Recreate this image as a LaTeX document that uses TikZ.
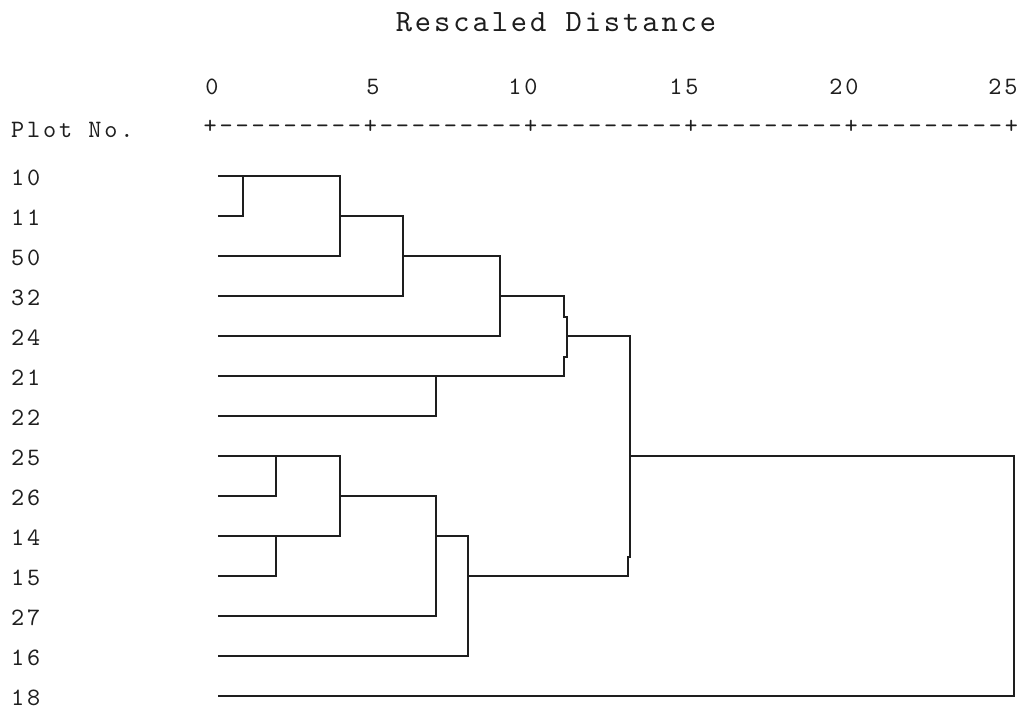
\documentclass[tikz,border=0pt]{standalone}
\usepackage{fontspec}
\setmonofont{lmmono10-regular}[Extension=.otf]
\definecolor{ink}{HTML}{1E1E1E}
% monospaced, widely tracked text in the style of a line-printer listing
\newcommand\plotfont{\fontsize{25}{25}\ttfamily\addfontfeature{LetterSpace=11.6}}
\newcommand\headfont{\fontsize{31}{31}\ttfamily\addfontfeature{LetterSpace=9.4}}
\tikzset{
  link/.style={draw=ink, line width=2pt, line join=miter},
  leaflabel/.style={inner sep=0pt, anchor=base west, text=ink, font=\plotfont},
  ticklabel/.style={inner sep=0pt, anchor=base, text=ink, font=\plotfont},
}
\begin{document}
\begin{tikzpicture}[x=1pt, y=-1pt]
\useasboundingbox (0,0) rectangle (1026,713);

% heading and distance scale
\node[inner sep=0pt, anchor=base, text=ink, font=\headfont] (title) at (556,31) {Rescaled Distance};
\node[leaflabel] (plotno) at (11,137) {Plot No.};
\node[ticklabel] (t0)  at (212,94) {0};
\node[ticklabel] (t5)  at (373,94) {5};
\node[ticklabel] (t10) at (523,94) {10};
\node[ticklabel] (t15) at (684,94) {15};
\node[ticklabel] (t20) at (844,94) {20};
\node[ticklabel] (t25) at (1003,94) {25};
\node[leaflabel] (scale) at (203.4,133) {+---------+---------+---------+---------+---------+};

% leaf labels (plot numbers) and the start of each leaf line
\foreach \p [count=\i from 0] in {10,11,50,32,24,21,22,25,26,14,15,27,16,18}{
  \node[leaflabel] (n\p) at (11,185.5+40*\i) {\p};
  \coordinate (s\p) at (218,175.5+40*\i);
}

% merge levels (x positions)
\coordinate (xA) at (243,0);
\coordinate (xB) at (340,0);
\coordinate (xC) at (403,0);
\coordinate (xD) at (500,0);
\coordinate (xE) at (435.7,0);
\coordinate (xF1) at (564,0);
\coordinate (xF2) at (566.7,0);
\coordinate (xG) at (275.7,0);
\coordinate (xI) at (340,0);
\coordinate (xJ) at (435.7,0);
\coordinate (xK) at (468.3,0);
\coordinate (xL1) at (630,0);
\coordinate (xL2) at (628.3,0);
\coordinate (xM) at (1014.3,0);
% small steps in the long vertical links
\coordinate (n1) at (0,316.7);
\coordinate (n2) at (0,356.7);
\coordinate (n3) at (0,556.7);

% upper group
\draw[link] (s10) -- (s10 -| xB) -- (s50 -| xB) -- (s50);
\draw[link] (s11) -| (s10 -| xA);
\draw[link] (s11 -| xB) -| (s32 -| xC) -- (s32);
\draw[link] (s50 -| xC) -| (s24 -| xD) -- (s24);
\draw[link] (s32 -| xD) -- (s32 -| xF1) -- (n1 -| xF1) -- (n1 -| xF2)
            -- (n2 -| xF2) -- (n2 -| xF1) -- (s21 -| xF1) -- (s21);
\draw[link] (s22) -| (s21 -| xE);

% lower group
\draw[link] (s25) -- (s25 -| xI) -- (s14 -| xI) -- (s14);
\draw[link] (s26) -| (s25 -| xG);
\draw[link] (s15) -| (s14 -| xG);
\draw[link] (s26 -| xI) -| (s27 -| xJ) -- (s27);
\draw[link] (s14 -| xJ) -| (s16 -| xK) -- (s16);

% joining the two groups, then the outlier
\draw[link] (s24 -| xF2) -- (s24 -| xL1) -- (n3 -| xL1) -- (n3 -| xL2)
            -- (s15 -| xL2) -- (s15 -| xK);
\draw[link] (s25 -| xL1) -| (s18 -| xM) -- (s18);
\end{tikzpicture}
\end{document}
